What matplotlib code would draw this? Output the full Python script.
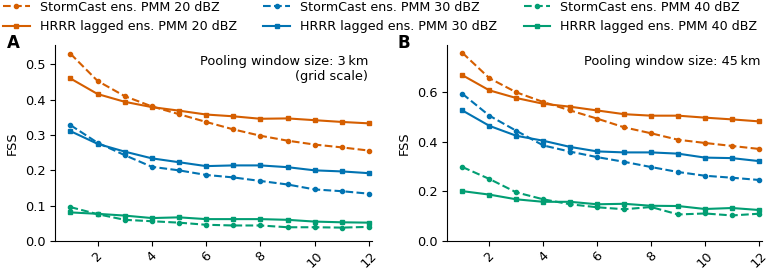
import matplotlib.pyplot as plt
import numpy as np

lead = np.arange(1, 13)

# panel A: 3 km pooling
sc20_a = [0.530, 0.453, 0.410, 0.381, 0.359, 0.337, 0.316, 0.298, 0.284, 0.273, 0.265, 0.256]
hr20_a = [0.460, 0.416, 0.394, 0.379, 0.369, 0.358, 0.353, 0.346, 0.347, 0.342, 0.337, 0.333]
sc30_a = [0.328, 0.278, 0.243, 0.210, 0.200, 0.187, 0.180, 0.170, 0.160, 0.146, 0.141, 0.134]
hr30_a = [0.311, 0.275, 0.253, 0.234, 0.223, 0.212, 0.214, 0.214, 0.209, 0.200, 0.197, 0.192]
sc40_a = [0.096, 0.076, 0.060, 0.056, 0.052, 0.046, 0.044, 0.044, 0.039, 0.039, 0.038, 0.040]
hr40_a = [0.081, 0.077, 0.072, 0.065, 0.067, 0.062, 0.062, 0.062, 0.060, 0.055, 0.053, 0.052]

# panel B: 45 km pooling
sc20_b = [0.758, 0.656, 0.599, 0.560, 0.526, 0.493, 0.458, 0.434, 0.408, 0.395, 0.383, 0.371]
hr20_b = [0.668, 0.607, 0.576, 0.553, 0.541, 0.526, 0.511, 0.505, 0.505, 0.497, 0.490, 0.482]
sc30_b = [0.593, 0.505, 0.444, 0.385, 0.360, 0.338, 0.319, 0.298, 0.278, 0.263, 0.255, 0.246]
hr30_b = [0.526, 0.464, 0.424, 0.404, 0.379, 0.361, 0.357, 0.357, 0.352, 0.336, 0.334, 0.322]
sc40_b = [0.298, 0.250, 0.196, 0.168, 0.148, 0.136, 0.128, 0.137, 0.107, 0.111, 0.103, 0.110]
hr40_b = [0.201, 0.187, 0.168, 0.158, 0.158, 0.148, 0.150, 0.142, 0.141, 0.129, 0.133, 0.125]

thresholds = [20, 30, 40]
colors = ['#d55e00', '#0173b2', '#029e73']

fig = plt.figure(figsize=(7.78, 2.69), dpi=100)
ax_a = fig.add_axes([0.0707, 0.104, 0.407, 0.729])
ax_b = fig.add_axes([0.5746, 0.104, 0.4044, 0.729])

panels = [
    (ax_a, [sc20_a, sc30_a, sc40_a], [hr20_a, hr30_a, hr40_a], 0.555,
     [0.0, 0.1, 0.2, 0.3, 0.4, 0.5],
     'Pooling window size: 3\u2009km\n(grid scale)', 'A', 0.99, -0.152),
    (ax_b, [sc20_b, sc30_b, sc40_b], [hr20_b, hr30_b, hr40_b], 0.79,
     [0.0, 0.2, 0.4, 0.6],
     'Pooling window size: 45\u2009km', 'B', 0.995, -0.158),
]

for ax, sc, hr, ytop, yt, note, letter, nx, lx in panels:
    for t, c, s, h in zip(thresholds, colors, sc, hr):
        ax.plot(lead, s, '--', marker='o', ms=3, lw=1.5, color=c,
                label=f'StormCast ens. PMM {t} dBZ')
        ax.plot(lead, h, '-', marker='s', ms=3, lw=1.5, color=c,
                label=f'HRRR lagged ens. PMM {t} dBZ')
    ax.set_xlim(0.43, 12.1)
    ax.set_ylim(0, ytop)
    ax.set_xticks([2, 4, 6, 8, 10, 12])
    ax.set_yticks(yt)
    ax.tick_params(axis='x', labelrotation=45, labelsize=9.3, pad=2.5)
    ax.tick_params(axis='y', labelsize=9.3)
    ax.set_ylabel('FSS', fontsize=9.3)
    ax.spines['top'].set_visible(False)
    ax.spines['right'].set_visible(False)
    ax.text(nx, 0.95, note, transform=ax.transAxes, ha='right', va='top',
            fontsize=9.3, multialignment='right')
    ax.text(lx, 0.985, letter, transform=ax.transAxes, fontsize=12,
            fontweight='bold', ha='left', va='baseline')

handles, labels = ax_a.get_legend_handles_labels()
fig.legend(handles, labels, loc='upper left', bbox_to_anchor=(0.003, 1.0), ncol=3,
           frameon=False, fontsize=9.1, handlelength=2.1, columnspacing=2.1,
           labelspacing=0.5, handletextpad=0.8, borderpad=0.05,
           borderaxespad=0.0)

fig.savefig('out.png', dpi=100)
